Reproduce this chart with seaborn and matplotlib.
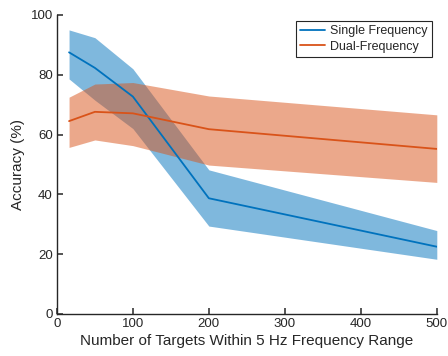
import matplotlib
matplotlib.use("Agg")
import matplotlib.pyplot as plt
import seaborn as sns
import pandas as pd

targets = [16, 50, 100, 200, 500]
single_mean = [87.5, 82.3, 72.7, 38.7, 22.5]
single_upper = [95.0, 92.4, 82.0, 48.2, 27.9]
single_lower = [78.6, 71.5, 62.0, 29.4, 18.3]
dual_mean = [64.5, 67.6, 67.1, 61.8, 55.2]
dual_upper = [72.5, 76.9, 77.4, 72.9, 66.6]
dual_lower = [55.7, 58.2, 56.3, 49.8, 44.0]
series_names = ["Single Frequency", "Dual-Frequency"]
xticks = [0, 100, 200, 300, 400, 500]
yticks = [0, 20, 40, 60, 80, 100]

sns.set_style("ticks")
plt.rcParams['font.family'] = ['Liberation Sans', 'DejaVu Sans']

df = pd.DataFrame({
    "x": targets * 2,
    "y": single_mean + dual_mean,
    "series": [series_names[0]] * len(targets) + [series_names[1]] * len(targets),
})

blue = "#0072BD"
orange = "#D95319"

fig = plt.figure(figsize=(4.48, 3.56), dpi=100)
ax = fig.add_axes([0.127, 0.118, 0.848, 0.84])

ax.fill_between(targets, single_lower, single_upper, color=blue, alpha=0.5, linewidth=0)
ax.fill_between(targets, dual_lower, dual_upper, color=orange, alpha=0.5, linewidth=0)
sns.lineplot(data=df, x="x", y="y", hue="series", palette=[blue, orange], ax=ax, linewidth=1.3)

ax.set_xlim(0, 500)
ax.set_ylim(0, 100)
ax.set_xticks(xticks)
ax.set_yticks(yticks)
ax.set_xlabel("Number of Targets Within 5 Hz Frequency Range", fontsize=11, color="#262626", labelpad=3)
ax.set_ylabel("Accuracy (%)", fontsize=11, color="#262626", labelpad=4)
ax.tick_params(axis="both", which="major", bottom=True, left=True, direction="in",
               length=4, width=1.1, labelsize=9.5, color="#262626",
               labelcolor="#262626", pad=3)
for s in ["top", "right"]:
    ax.spines[s].set_visible(False)
for s in ["left", "bottom"]:
    ax.spines[s].set_color("#262626")
    ax.spines[s].set_linewidth(1.0)

leg = ax.legend(loc="upper right", fontsize=9, frameon=True, fancybox=False,
                edgecolor="#262626", framealpha=1, borderpad=0.35, handlelength=2.0,
                handletextpad=0.4, labelspacing=0.3, bbox_to_anchor=(1.004, 1.002))
leg.get_frame().set_linewidth(0.8)

fig.savefig("out.png", dpi=100)
